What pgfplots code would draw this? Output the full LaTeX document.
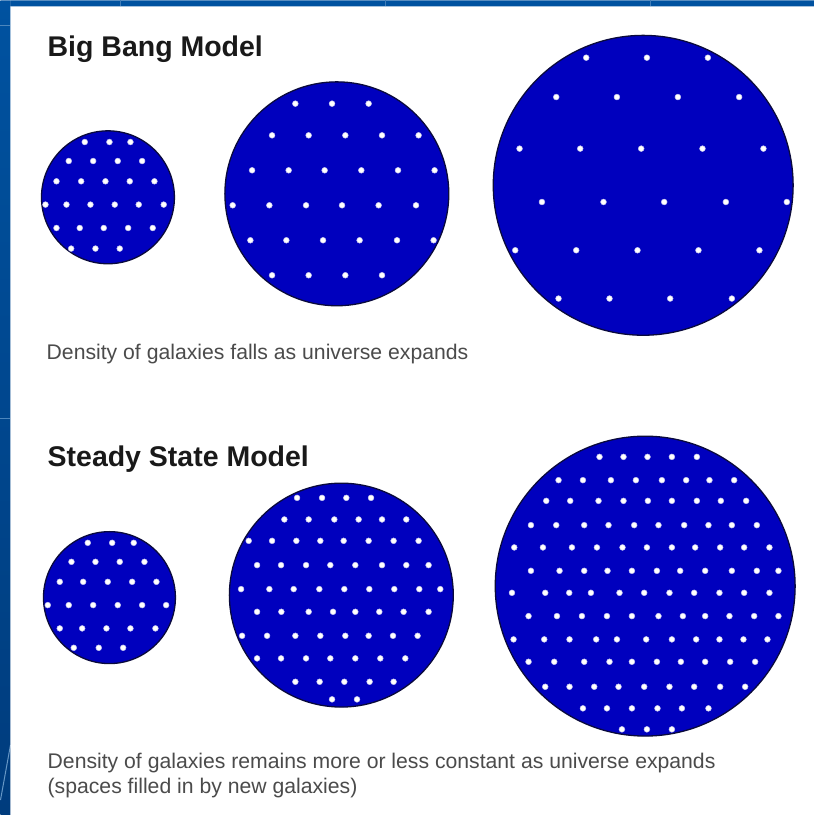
\documentclass[border=0pt]{standalone}
\usepackage{pgfplots}
\pgfplotsset{compat=1.18}
\usepackage{fontspec}
\setmainfont{Liberation Sans}
\definecolor{bgblue}{RGB}{0,82,160}
\definecolor{bgdark}{RGB}{0,60,125}
\definecolor{cblue}{RGB}{0,0,190}
\definecolor{cedge}{RGB}{10,10,60}
\definecolor{captgray}{RGB}{75,75,75}
\begin{document}
\begin{tikzpicture}
\begin{axis}[
  width=814bp, height=815bp, scale only axis,
  xmin=0, xmax=814, ymin=0, ymax=815,
  y dir=reverse, hide axis, clip=false,
  dot/.style={only marks, mark=*, mark size=2.9bp, mark options={fill=white, draw=white!75!cblue, line width=0.5bp}},
  disc/.style={only marks, mark=*, mark size=#1, mark options={fill=cblue, draw=cedge, line width=1.3bp}},
]
% background frame and white panel
\addplot[draw=none, top color=bgblue, bottom color=bgdark] coordinates {(0,0) (814,0) (814,815) (0,815)} \closedcycle;
\addplot[draw=bgblue!70!white, line width=1bp] coordinates {(0,25) (10,25)};
\addplot[draw=bgblue!70!white, line width=1bp] coordinates {(0,418) (10,418)};
\addplot[draw=bgblue!60!white, line width=1bp] coordinates {(0,800) (10,745)};
\addplot[draw=bgblue!75!white, line width=0.8bp] coordinates {(120,0) (120,6)};
\addplot[draw=bgblue!75!white, line width=0.8bp] coordinates {(385,0) (385,6)};
\addplot[draw=bgblue!75!white, line width=0.8bp] coordinates {(650,0) (650,6)};
\addplot[draw=none, fill=white] coordinates {(10,6) (814,6) (814,815) (10,815)} \closedcycle;

% Big Bang model: same number of galaxies, larger universe
\addplot[disc=66.5bp] coordinates {(107.5,197)};
\addplot[disc=112bp] coordinates {(336.5,193.5)};
\addplot[disc=150bp] coordinates {(643,185)};

\addplot[dot] coordinates {
(84.3,141.7) (109,141.7) (130,141.7)
(68.3,160.7) (92.7,160.7) (117.3,160.7) (141.7,160.7)
(56,181) (80.7,181) (105,181) (129.3,181) (154,181)
(45,204.3) (66,204.3) (90,204.3) (114.3,204.3) (138.3,204.3) (163.3,204.3)
(56,227.7) (79.3,227.7) (103.3,227.7) (127.7,227.7) (152.3,227.7)
(70.7,248.3) (95,248.3) (119.3,248.3)
};
\addplot[dot] coordinates {
(295,103.3) (331.7,103.3) (368.3,103.3)
(271.7,135) (308.3,135) (345,135) (381.7,135) (418.3,135)
(251.7,170) (288.3,170) (324.3,170) (361,170) (397.7,170) (434.3,170)
(232.3,205) (269,205) (305.7,205) (341.7,205) (378.3,205) (415.7,205)
(250,240) (286,240) (322.7,240) (359.3,240) (396.7,240) (433.3,240)
(271.7,275) (308.3,275) (345,275) (381.7,275)
};
\addplot[dot] coordinates {
(586,57.3) (646.7,57.3) (707.7,57.3)
(556,96.7) (616.7,96.7) (677.7,96.7) (739,96.7)
(519.3,148.3) (580,148.3) (641,148.3) (702.3,148.3) (763.3,148.3)
(541.7,201.7) (603.3,201.7) (664,201.7) (725.7,201.7) (786.7,201.7)
(515,250) (576,250) (637.3,250) (698.3,250) (759.3,250)
(558.3,298.3) (609.3,298.3) (670,298.3) (731.7,298.3)
};

% Steady State model: density kept constant
\addplot[disc=66bp] coordinates {(109,597.5)};
\addplot[disc=112bp] coordinates {(341,595)};
\addplot[disc=150bp] coordinates {(645,586)};

\addplot[dot] coordinates {
(87.3,542.7) (111.7,542.7) (133.3,542.7)
(71,561.7) (95,561.7) (119.3,561.7) (144,561.7)
(59.3,581.7) (82.7,581.7) (107.3,581.7) (131.7,581.7) (156,581.7)
(47.3,605) (68.3,605) (92.7,605) (117.3,605) (141.7,605) (165.7,605)
(59.3,628.3) (81.7,628.3) (106,628.3) (130,628.3) (155,628.3)
(73.3,647.7) (98.3,647.7) (122.7,647.7)
};
\addplot[dot] coordinates {
(296.7,497.7) (321.7,497.7) (346,497.7) (370.7,497.7)
(284,519.3) (308.3,519.3) (334,519.3) (358.3,519.3) (381.7,519.3) (406,519.3)
(248.3,540.7) (271.7,540.7) (296,540.7) (320,540.7) (343.3,540.7) (368.3,540.7) (393.3,540.7) (418.3,540.7)
(256.7,565) (280.7,565) (305.7,565) (330,565) (355,565) (381.7,565) (406,565) (428.3,565)
(240.7,589) (269,589) (293.3,589) (319,589) (344,589) (369,589) (394,589) (419,589) (440,589)
(256.7,611.7) (281,611.7) (308.3,611.7) (332.7,611.7) (355,611.7) (379,611.7) (403.3,611.7) (428.3,611.7)
(241.7,635.7) (266.7,635.7) (295,635.7) (320,635.7) (345,635.7) (368.3,635.7) (392.7,635.7) (417.3,635.7)
(256.7,658.3) (280.7,658.3) (305.7,658.3) (330,658.3) (355,658.3) (380,658.3) (405,658.3)
(295,681.7) (319.3,681.7) (344,681.7) (369.3,681.7) (393.3,681.7)
(331.7,699.3) (356.7,699.3)
};
\addplot[dot] coordinates {
(599.3,456.7) (623.3,456.7) (647.3,456.7) (671.7,456.7) (696.7,456.7)
(558.3,480) (582.7,480) (610.7,480) (635.7,480) (661.7,480) (686,480) (709.3,480) (734,480)
(546,500.7) (570,500.7) (598.3,500.7) (623.3,500.7) (647.7,500.7) (671.7,500.7) (696.7,500.7) (720.7,500.7) (746,500.7)
(530.7,525) (556,525) (584,525) (608.3,525) (634,525) (658.3,525) (684,525) (708.3,525) (731.7,525) (756.7,525)
(514,547.3) (542.7,547.3) (571.7,547.3) (596.7,547.3) (622.3,547.3) (646.7,547.3) (671.7,547.3) (695,547.3) (720,547.3) (744,547.3) (769.3,547.3)
(530.7,570.7) (559.3,570.7) (584,570.7) (607.3,570.7) (631.7,570.7) (656.7,570.7) (680,570.7) (705,570.7) (731.7,570.7) (756.7,570.7) (778.3,570.7)
(511.7,592.7) (545,592.7) (569,592.7) (590.7,592.7) (619.3,592.7) (644,592.7) (669.3,592.7) (694,592.7) (719.3,592.7) (744,592.7) (769.3,592.7)
(528.3,616) (556.7,616) (581.7,616) (606.7,616) (631.7,616) (658.3,616) (682.7,616) (705,616) (729.3,616) (754,616) (778.3,616)
(513.3,639.3) (544,639.3) (569.3,639.3) (596,639.3) (616.7,639.3) (646,639.3) (671.7,639.3) (696,639.3) (719.3,639.3) (743.3,639.3) (767.3,639.3)
(528.3,661.7) (554,661.7) (584,661.7) (609.3,661.7) (631.7,661.7) (656.7,661.7) (680.7,661.7) (705,661.7) (730,661.7) (755,661.7)
(545,686.7) (569.3,686.7) (594,686.7) (618.3,686.7) (644,686.7) (669.3,686.7) (694,686.7) (720,686.7) (745,686.7)
(582.7,708.3) (606.7,708.3) (631.7,708.3) (657.3,708.3) (681.7,708.3) (708.3,708.3)
(621.7,729.3) (646.7,729.3) (671.7,729.3)
};

% titles and captions
\node[anchor=base west, inner sep=0pt, text=black!90, font=\bfseries\fontsize{28.5bp}{31bp}\selectfont] at (axis cs:47,56) {Big Bang Model};
\node[anchor=base west, inner sep=0pt, text=captgray, font=\fontsize{21.2bp}{25bp}\selectfont] at (axis cs:46,359) {Density of galaxies falls as universe expands};
\node[anchor=base west, inner sep=0pt, text=black!90, font=\bfseries\fontsize{28.5bp}{31bp}\selectfont] at (axis cs:47,466) {Steady State Model};
\node[anchor=base west, inner sep=0pt, text=captgray, font=\fontsize{21.2bp}{25bp}\selectfont] at (axis cs:47,768) {Density of galaxies remains more or less constant as universe expands};
\node[anchor=base west, inner sep=0pt, text=captgray, font=\fontsize{21.2bp}{25bp}\selectfont] at (axis cs:47,793) {(spaces filled in by new galaxies)};
\end{axis}
\end{tikzpicture}
\end{document}
